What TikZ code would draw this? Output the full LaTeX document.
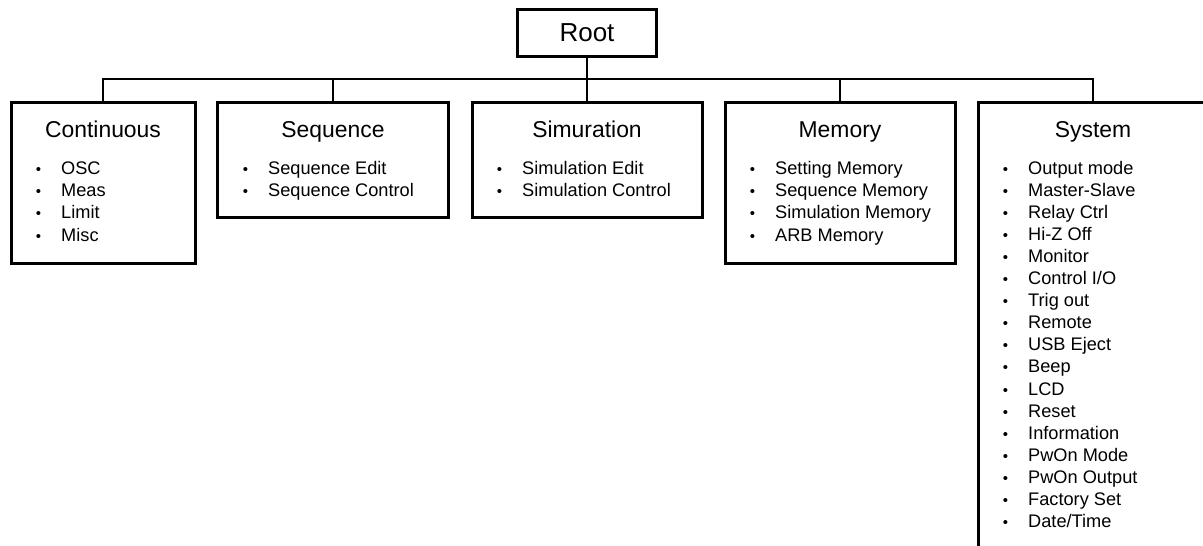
\documentclass[tikz,border=0pt]{standalone}
\usepackage{fontspec}
\setmainfont{Liberation Sans}
\begin{document}
\begin{tikzpicture}[x=1pt, y=-1pt,
  box/.style={draw, line width=3pt, outer sep=0pt, inner sep=0pt, anchor=north, minimum width=230pt},
  conn/.style={line width=2.6pt},
  title/.style={anchor=base, inner sep=0pt, font=\fontsize{22.9}{27}\selectfont},
  item/.style={anchor=base west, inner sep=0pt, font=\fontsize{18.2}{22}\selectfont}]
\useasboundingbox (0,0) rectangle (1203,546);
\clip (0,0) rectangle (1203,546);
% Root
\node[draw, line width=3pt, outer sep=0pt, minimum width=139pt, minimum height=47pt,
  font=\fontsize{26}{30}\selectfont] (root) at (587,32.5) {Root};
\coordinate (bus) at (587,79);
% Boxes
\node[box, minimum width=184pt, minimum height=161pt] (cont) at (103,102) {};
\node[box, minimum width=231pt, minimum height=115pt] (seq) at (333,102) {};
\node[box, minimum height=115pt] (sim) at (587,102) {};
\node[box, minimum height=161pt] (mem) at (840,102) {};
\node[box, minimum height=470pt] (sys) at (1093,102) {};
% Connectors
\draw[conn] (root.south) -- (root.south |- bus);
\draw[conn] (cont.north) -- (cont.north |- bus) -- (sys.north |- bus) -- (sys.north);
\foreach \b in {seq,sim,mem}
  \draw[conn] (\b.north) -- (\b.north |- bus);
% Titles
\node[title] (cont-t) at (103,137) {Continuous};
\node[title] (seq-t) at (333,137) {Sequence};
\node[title] (sim-t) at (587,137) {Simuration};
\node[title] (mem-t) at (840,137) {Memory};
\node[title] (sys-t) at (1093,137) {System};
% Items
\def\bul{\llap{\fontsize{15}{15}\selectfont •\hspace{20pt}}}
\foreach \t [count=\i from 0] in {OSC,Meas,Limit,Misc}
  \node[item] (cont-\i) at (61,174+22.4*\i) {\bul\t};
\foreach \t [count=\i from 0] in {Sequence Edit,Sequence Control}
  \node[item] (seq-\i) at (268,174+22.4*\i) {\bul\t};
\foreach \t [count=\i from 0] in {Simulation Edit,Simulation Control}
  \node[item] (sim-\i) at (522,174+22.4*\i) {\bul\t};
\foreach \t [count=\i from 0] in {Setting Memory,Sequence Memory,Simulation Memory,ARB Memory}
  \node[item] (mem-\i) at (775,174+22.4*\i) {\bul\t};
\foreach \t [count=\i from 0] in {Output mode,Master-Slave,Relay Ctrl,Hi-Z Off,Monitor,Control I/O,
    Trig out,Remote,USB Eject,Beep,LCD,Reset,Information,PwOn Mode,PwOn Output,Factory Set,Date/Time}
  \node[item] (sys-\i) at (1028,174+22.1*\i) {\bul\t};
\end{tikzpicture}
\end{document}
